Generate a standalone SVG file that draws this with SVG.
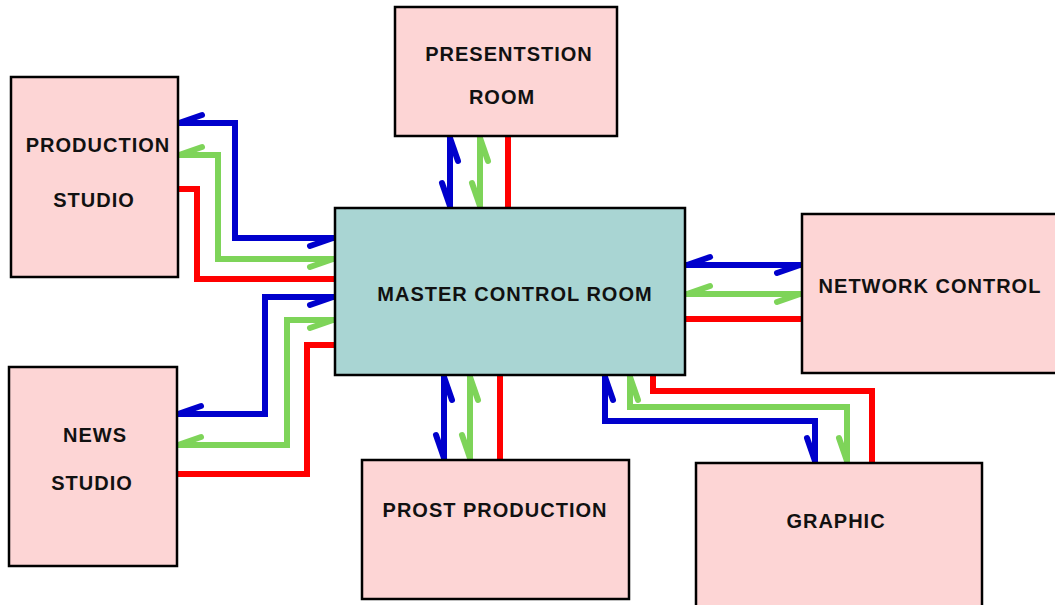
<svg xmlns="http://www.w3.org/2000/svg" width="1055" height="605" viewBox="0 0 1055 605">
<style>
.box{fill:#FDD5D5;stroke:#000;stroke-width:2.5}
.mcr{fill:#A9D5D3;stroke:#000;stroke-width:2.5}
.lbl{font-family:"Liberation Sans",Arial,sans-serif;font-weight:bold;font-size:20px;letter-spacing:1px;fill:#111;text-anchor:middle}
.w{fill:none;stroke-width:6;stroke-linejoin:miter}
.b{stroke:#0000CC;marker-start:url(#hb);marker-end:url(#hb)}
.g{stroke:#7ED459;marker-start:url(#hg);marker-end:url(#hg)}
.r{stroke:#FF0000}
</style>
<defs>
<marker id="hb" markerUnits="userSpaceOnUse" orient="auto-start-reverse" refX="0" refY="0" markerWidth="40" markerHeight="40" overflow="visible">
<path d="M-1,0 L-24,8" stroke="#0000CC" stroke-width="6" stroke-linecap="round" fill="none"/>
</marker>
<marker id="hg" markerUnits="userSpaceOnUse" orient="auto-start-reverse" refX="0" refY="0" markerWidth="40" markerHeight="40" overflow="visible">
<path d="M-1,0 L-24,8" stroke="#7ED459" stroke-width="6" stroke-linecap="round" fill="none"/>
</marker>
</defs>
<rect width="1055" height="605" fill="#fff"/>
<g id="connectors">
<path class="w b" d="M178,123 H235 V238 H334"/>
<path class="w g" d="M178,155 H218 V259 H334"/>
<path class="w r" d="M178,189 H197 V279 H335"/>
<path class="w b" d="M177,414 H265 V297 H334"/>
<path class="w g" d="M177,445 H287 V320 H334"/>
<path class="w r" d="M177,474 H307 V345 H335"/>
<path class="w b" d="M450,137 V207"/>
<path class="w g" d="M480,137 V207"/>
<path class="w r" d="M508,136 V208"/>
<path class="w b" d="M686,265 H801"/>
<path class="w g" d="M686,294 H801"/>
<path class="w r" d="M685,319 H802"/>
<path class="w b" d="M444,376 V459"/>
<path class="w g" d="M470,376 V459"/>
<path class="w r" d="M500,375 V460"/>
<path class="w b" d="M605,376 V421 H815 V462"/>
<path class="w g" d="M630,376 V407 H847 V462"/>
<path class="w r" d="M653,375 V391 H872 V463"/>
</g>
<g id="production-studio">
<rect class="box" x="11" y="77" width="167" height="200"/>
<text class="lbl" x="98" y="152">PRODUCTION</text>
<text class="lbl" x="94" y="207">STUDIO</text>
</g>
<g id="presentation-room">
<rect class="box" x="395" y="7" width="222" height="129"/>
<text class="lbl" x="509" y="61">PRESENTSTION</text>
<text class="lbl" x="502" y="104">ROOM</text>
</g>
<g id="master-control-room">
<rect class="mcr" x="335" y="208" width="350" height="167"/>
<text class="lbl" x="515" y="301">MASTER CONTROL ROOM</text>
</g>
<g id="network-control">
<rect class="box" x="802" y="214" width="256" height="159"/>
<text class="lbl" x="930" y="293">NETWORK CONTROL</text>
</g>
<g id="news-studio">
<rect class="box" x="9" y="367" width="168" height="199"/>
<text class="lbl" x="95" y="442">NEWS</text>
<text class="lbl" x="92" y="490">STUDIO</text>
</g>
<g id="prost-production">
<rect class="box" x="362" y="460" width="267" height="139"/>
<text class="lbl" x="495" y="517">PROST PRODUCTION</text>
</g>
<g id="graphic">
<rect class="box" x="696" y="463" width="286" height="145"/>
<text class="lbl" x="836" y="528">GRAPHIC</text>
</g>
</svg>
